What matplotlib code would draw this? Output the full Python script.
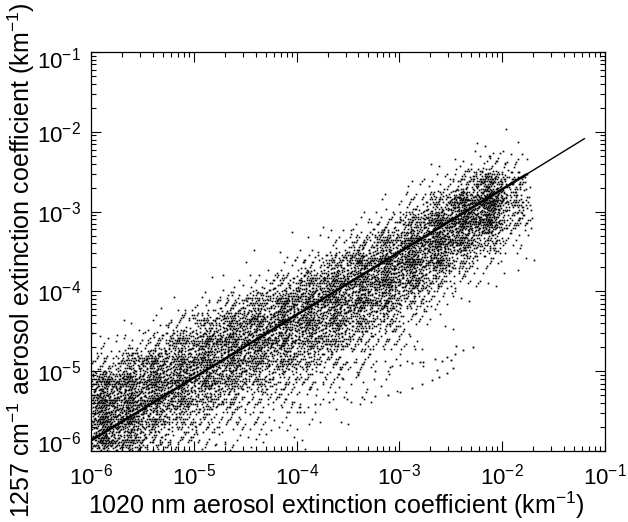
import numpy as np
import matplotlib
matplotlib.use("Agg")
import matplotlib.pyplot as plt
from matplotlib.transforms import ScaledTranslation

plt.rcParams["font.family"] = ["Liberation Sans", "DejaVu Sans"]
plt.rcParams["mathtext.fontset"] = "custom"
plt.rcParams["mathtext.rm"] = "Liberation Sans"
plt.rcParams["mathtext.it"] = "Liberation Sans"

# density of the scatter cloud:
# dots per cell, cells are 0.25 decade wide in x and in y
logx_lo = np.arange(-6.0, -1.74, 0.25)   # 17 columns, -6 ... -1.75
logy_lo = np.arange(-6.0, -1.99, 0.25)   # 16 rows, -6 ... -2.25
counts = [
    # y: -6.0 -5.75 -5.5 -5.25 -5.0 -4.75 -4.5 -4.25 -4.0 -3.75 -3.5 -3.25 -3.0 -2.75 -2.5 -2.25
    [140, 150, 150, 120, 30, 6, 0, 0, 0, 0, 0, 0, 0, 0, 0, 0],
    [100, 130, 140, 130, 70, 10, 2, 0, 0, 0, 0, 0, 0, 0, 0, 0],
    [45, 90, 120, 130, 110, 35, 6, 0, 0, 0, 0, 0, 0, 0, 0, 0],
    [22, 55, 100, 120, 120, 90, 20, 3, 0, 0, 0, 0, 0, 0, 0, 0],
    [14, 30, 70, 110, 120, 110, 60, 10, 1, 0, 0, 0, 0, 0, 0, 0],
    [9, 20, 40, 90, 115, 120, 100, 30, 4, 0, 0, 0, 0, 0, 0, 0],
    [6, 14, 25, 60, 100, 120, 115, 70, 10, 2, 0, 0, 0, 0, 0, 0],
    [2, 8, 18, 35, 80, 110, 120, 110, 40, 5, 0, 0, 0, 0, 0, 0],
    [1, 4, 10, 22, 55, 95, 120, 120, 90, 20, 3, 0, 0, 0, 0, 0],
    [0, 2, 6, 14, 30, 70, 110, 125, 115, 60, 10, 2, 0, 0, 0, 0],
    [0, 0, 3, 8, 15, 40, 80, 120, 130, 110, 40, 6, 0, 0, 0, 0],
    [0, 0, 0, 4, 8, 18, 50, 100, 130, 130, 90, 20, 3, 0, 0, 0],
    [0, 0, 0, 0, 3, 6, 15, 45, 110, 140, 130, 80, 15, 3, 0, 0],
    [0, 0, 0, 0, 0, 0, 4, 12, 45, 120, 150, 140, 60, 10, 2, 0],
    [0, 0, 0, 0, 0, 0, 0, 3, 12, 50, 120, 160, 150, 40, 6, 0],
    [0, 0, 0, 0, 0, 0, 0, 0, 4, 15, 60, 150, 200, 120, 20, 2],
    [0, 0, 0, 0, 0, 0, 0, 0, 0, 3, 12, 40, 60, 45, 12, 2],
]

# the two thin arcs of dots below the cloud (log10 values)
arc_logx = [-3.97, -3.82, -3.68, -3.51, -3.36, -3.24, -3.11, -2.99, -2.88, -2.78,
            -2.68, -2.61, -2.54, -2.48, -3.56, -3.40, -3.24, -3.09, -2.99, -2.88,
            -2.77, -2.65, -2.54, -2.46, -2.38, -2.28, -2.80, -2.50, -2.45, -2.59,
            -2.63]
arc_logy = [-5.51, -5.41, -5.39, -5.35, -5.32, -5.31, -5.30, -5.26, -5.21, -5.16,
            -5.11, -5.07, -5.02, -4.96, -5.09, -5.05, -5.00, -4.95, -4.92, -4.90,
            -4.89, -4.85, -4.82, -4.78, -4.73, -4.70, -4.89, -4.86, -4.68, -4.87,
            -4.98]

# fitted line
line_x = [1e-6, 1.7e-2, 6.3e-2]
line_y = [1.35e-6, 2.9e-3, 8.2e-3]

# spread each cell's dots evenly around the cell centre, overlapping the
# neighbours a little so the cell edges do not show (Kronecker sequence)
g = 1.1673039782614187
alpha = [1 / g ** k for k in range(1, 5)]
cell = 0.25
xs, ys = [], []
n = 0
for i, row in enumerate(counts):
    for j, c in enumerate(row):
        cx = logx_lo[i] + cell / 2
        cy = logy_lo[j] + cell / 2
        for k in range(c):
            n += 1
            u = [(0.5 + n * a) % 1 for a in alpha]
            xs.append(10 ** (cx + 0.75 * cell * (u[0] + u[1] - 1)))
            ys.append(10 ** (cy + 0.75 * cell * (u[2] + u[3] - 1)))

fig = plt.figure(figsize=(6.28, 5.22), dpi=100)
ax = fig.add_axes([91 / 628, 71 / 522, 514 / 628, 399 / 522])

ax.plot(xs, ys, "s", ms=1.2, mew=0, color="k", antialiased=False)
ax.plot(10 ** np.array(arc_logx), 10 ** np.array(arc_logy), "s", ms=1.3, mew=0,
        color="k", antialiased=False)
ax.plot(line_x[:2], line_y[:2], "-", color="k", lw=1.8)
ax.plot(line_x[1:], line_y[1:], "-", color="k", lw=1.0)

ax.set_xscale("log")
ax.set_yscale("log")
ax.set_xlim(1e-6, 1e-1)
ax.set_ylim(1e-6, 1e-1)

decades = [1e-6, 1e-5, 1e-4, 1e-3, 1e-2, 1e-1]
dec_labels = [r"$10^{-6}$", r"$10^{-5}$", r"$10^{-4}$", r"$10^{-3}$", r"$10^{-2}$", r"$10^{-1}$"]
ax.set_xticks(decades, dec_labels)
ax.set_yticks(decades, dec_labels)

ax.tick_params(which="both", direction="in", top=True, right=True, width=0.8, colors="k")
ax.tick_params(which="major", length=7, labelsize=16, pad=7)
ax.tick_params(which="minor", length=3.5)
ax.tick_params(axis="x", which="major", pad=9)
for s in ax.spines.values():
    s.set_linewidth(0.9)

# end labels of the y axis are pulled inward
yt = ax.yaxis.get_major_ticks()
lab = yt[0].label1
lab.set_transform(lab.get_transform() + ScaledTranslation(0, 9 / 100, fig.dpi_scale_trans))
lab = yt[-1].label1
lab.set_transform(lab.get_transform() + ScaledTranslation(0, -6 / 100, fig.dpi_scale_trans))

ax.set_xlabel(r"1020 nm aerosol extinction coefficient (km$^{-1}$)", fontsize=18)
ax.set_ylabel(r"1257 cm$^{-1}$ aerosol extinction coefficient (km$^{-1}$)", fontsize=18)
ax.xaxis.label.set_va("center")
ax.yaxis.label.set_va("center")
ax.xaxis.set_label_coords(0.4776, -0.135)
ax.yaxis.set_label_coords(-0.136, 0.479)

fig.savefig("out.png", dpi=100)
